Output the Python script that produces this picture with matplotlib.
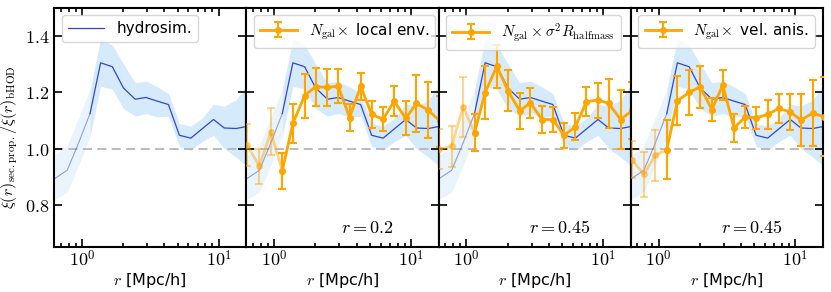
import numpy as np
import matplotlib
matplotlib.use('Agg')
import matplotlib.pyplot as plt
from matplotlib.ticker import FixedLocator, FuncFormatter, LogLocator, NullFormatter

plt.rcParams['mathtext.fontset'] = 'cm'

# radial bins [Mpc/h]
r = [0.634, 0.78, 0.946, 1.146, 1.37, 1.67, 2.01, 2.45, 2.94, 3.56, 4.29,
     5.16, 6.26, 7.53, 9.16, 10.97, 13.4, 16.3]

# hydrosim ratio and its spread
hydro = [0.894, 0.923, 1.02, 1.124, 1.304, 1.29, 1.215, 1.175, 1.181, 1.168,
         1.156, 1.047, 1.037, 1.069, 1.103, 1.073, 1.071, 1.079]
hydro_lo = [0.82, 0.846, 0.94, 1.045, 1.221, 1.21, 1.142, 1.115, 1.124, 1.112,
            1.115, 1.008, 0.994, 1.024, 1.047, 1.0, 0.97, 0.935]
hydro_hi = [0.976, 1.01, 1.11, 1.21, 1.387, 1.367, 1.30, 1.233, 1.239, 1.219,
            1.195, 1.089, 1.079, 1.107, 1.157, 1.15, 1.172, 1.23]

# N_gal x local env.
env = [1.012, 0.938, 1.059, 0.921, 1.089, 1.188, 1.219, 1.217, 1.221, 1.11,
       1.221, 1.121, 1.104, 1.168, 1.107, 1.16, 1.136, 1.097]
env_err = [0.075, 0.062, 0.083, 0.063, 0.07, 0.078, 0.067, 0.065, 0.06, 0.048,
           0.048, 0.048, 0.042, 0.053, 0.06, 0.10, 0.10, 0.09]

# N_gal x sigma^2 R_halfmass
sig = [0.998, 1.008, 1.148, 1.056, 1.198, 1.292, 1.205, 1.134, 1.162, 1.103,
       1.103, 1.047, 1.077, 1.166, 1.172, 1.16, 1.103, 1.135]
sig_err = [0.07, 0.072, 0.107, 0.065, 0.094, 0.076, 0.072, 0.063, 0.052, 0.048,
           0.046, 0.044, 0.048, 0.052, 0.062, 0.086, 0.103, 0.1]

# N_gal x vel. anis.
vel = [0.961, 0.909, 0.976, 0.996, 1.169, 1.199, 1.219, 1.138, 1.225, 1.073,
       1.112, 1.109, 1.121, 1.142, 1.13, 1.101, 1.126, 1.112]
vel_err = [0.065, 0.08, 0.09, 0.105, 0.087, 0.079, 0.075, 0.042, 0.052, 0.051,
           0.038, 0.04, 0.052, 0.051, 0.065, 0.091, 0.116, 0.14]

labels = [r'$N_{\rm gal}\!\times$ local env.',
          r'$N_{\rm gal} \times \sigma^2 R_{\rm halfmass}$',
          r'$N_{\rm gal}\!\times$ vel. anis.']
notes = ['$r = 0.2$', '$r = 0.45$', '$r = 0.45$']
series = [(env, env_err), (sig, sig_err), (vel, vel_err)]

cut = 3  # points below ~1 Mpc/h are drawn faded
blue = '#3346d3'
orange = '#ffa500'

fig, axes = plt.subplots(1, 4, figsize=(8.31, 2.92), dpi=100, sharey=True)
fig.subplots_adjust(left=54/831, right=823/831, bottom=1-247.3/292,
                    top=1-7.5/292, wspace=0)

for i, ax in enumerate(axes):
    ax.fill_between(r[:cut+1], hydro_lo[:cut+1], hydro_hi[:cut+1],
                    color='#eaf4fd', lw=0, zorder=1)
    ax.fill_between(r[cut:], hydro_lo[cut:], hydro_hi[cut:],
                    color='#d5eafb', lw=0, zorder=1)
    ax.plot(r[:cut+1], hydro[:cut+1], color=blue, lw=0.8, alpha=0.5, zorder=2)
    hline, = ax.plot(r[cut:], hydro[cut:], color=blue, lw=0.9, zorder=2)
    ax.axhline(1.0, color='#b5b5b5', lw=1.3, ls=(0, (5, 3)), zorder=1.5)

    if i == 0:
        ax.legend([hline], ['hydrosim.'], loc='upper left', fontsize=11,
                  handlelength=2.4)
        ax.set_ylabel(r'$\xi(r)_{\rm sec.prop.}/\xi(r)_{\rm bHOD}$', fontsize=11.5)
        ax.yaxis.set_label_coords(-0.175, 0.46)
    else:
        y, e = series[i-1]
        ax.errorbar(r[:cut+1], y[:cut+1], yerr=e[:cut+1], color=orange,
                    alpha=0.45, lw=2, marker='o', ms=4, capsize=3,
                    elinewidth=1.5, capthick=1.5, zorder=3)
        eb = ax.errorbar(r[cut:], y[cut:], yerr=e[cut:], color=orange,
                         lw=2, marker='o', ms=4, capsize=3,
                         elinewidth=1.5, capthick=1.5, zorder=4)
        ax.legend([eb], [labels[i-1]], loc='upper left', fontsize=11,
                  handlelength=2.4)
        ax.text(0.63, 0.08, notes[i-1], transform=ax.transAxes,
                ha='center', va='center', fontsize=13)

    ax.set_xscale('log')
    ax.set_xlim(0.625, 15.9)
    ax.set_ylim(0.65, 1.5)
    ax.xaxis.set_major_locator(FixedLocator([1, 10]))
    ax.xaxis.set_major_formatter(FuncFormatter(
        lambda v, p: r'$10^{%d}$' % round(np.log10(v))))
    ax.xaxis.set_minor_locator(LogLocator(base=10, subs=np.arange(2, 10)))
    ax.xaxis.set_minor_formatter(NullFormatter())
    ax.yaxis.set_major_locator(FixedLocator([0.8, 1.0, 1.2, 1.4]))
    ax.yaxis.set_major_formatter(FuncFormatter(lambda v, p: r'$%.1f$' % v))
    ax.tick_params(which='both', direction='in', top=True, right=True,
                   labelsize=13, width=1.2)
    ax.tick_params(axis='x', pad=2)
    ax.tick_params(which='major', length=6)
    ax.tick_params(which='minor', length=3)
    for s in ax.spines.values():
        s.set_linewidth(1.5)
    ax.set_xlabel('$r$ [Mpc/h]', fontsize=11.5, labelpad=0)

fig.savefig('out.png', dpi=100)
